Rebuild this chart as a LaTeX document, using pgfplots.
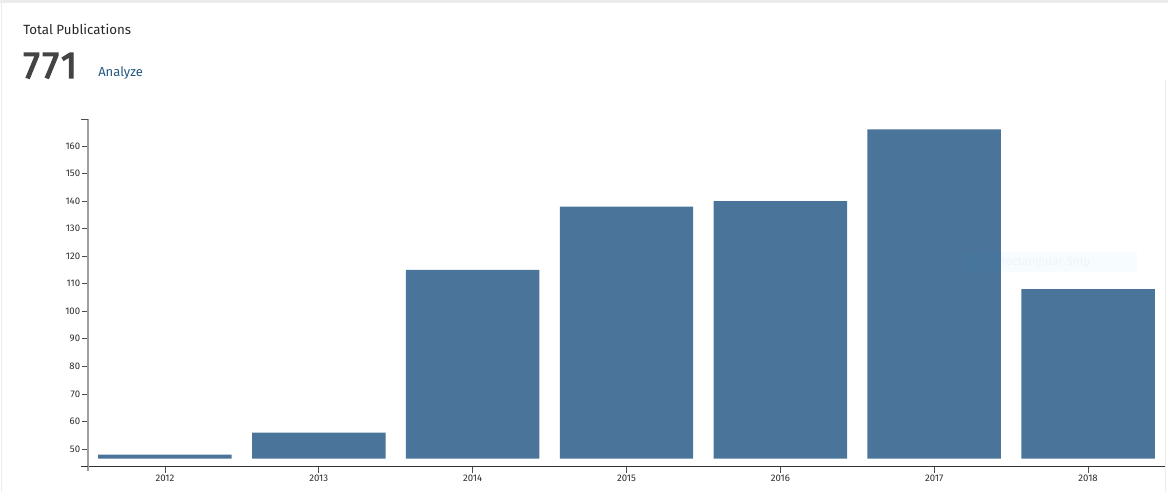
\documentclass[border=0pt]{standalone}
\usepackage{fontspec}
\setmainfont{Fira Sans}
\newfontfamily\numfont{Fira Sans}[FakeBold=3.5, LetterSpace=7]
\usepackage{pgfplots}
\pgfplotsset{compat=1.18}
\definecolor{barblue}{RGB}{74,116,153}
\definecolor{axisgray}{RGB}{158,158,158}
\definecolor{ticktext}{RGB}{45,45,45}
\definecolor{linkblue}{RGB}{36,88,128}
\definecolor{bignum}{RGB}{68,68,68}
\definecolor{cardedge}{RGB}{236,236,236}
\begin{document}
\begin{tikzpicture}
\path[use as bounding box] (0,0) rectangle (876pt,369pt);
\begin{scope}[x=0.75pt,y=-0.75pt,yshift=369pt]
\fill[cardedge] (0,0) rectangle (1168,3.5);
\draw[cardedge, line width=0.75pt] (1.5,3.5) -- (1.5,492);
\draw[cardedge, line width=0.75pt] (1165.5,80) -- (1165.5,492);

\node[anchor=base west, inner sep=0, font=\fontsize{10}{11}\selectfont, text=black!85] at (23,35) {Total Publications};
\node[anchor=base west, inner sep=0, font=\fontsize{28}{30}\selectfont\numfont, text=bignum] at (23,78) {771};
\node[anchor=base west, inner sep=0, font=\fontsize{9.75}{11}\selectfont, text=linkblue] at (98,77) {Analyze};
\end{scope}

\begin{axis}[
  name=ax,
  at={(66pt,24.975pt)}, anchor=south west,
  scale only axis,
  width=807.75pt, height=254.8pt,
  xmin=-0.5, xmax=6.5, ymin=46.5, ymax=169.8,
  axis lines=left,
  axis line style={-},
  x axis line style={black!80, line width=0.75pt},
  y axis line style={draw=none},
  axis x line shift=6pt,
  xtick={0,1,2,3,4,5,6},
  xticklabels={2012,2013,2014,2015,2016,2017,2018},
  ytick={50,60,70,80,90,100,110,120,130,140,150,160},
  tick align=outside,
  major tick length=4.5pt,
  tick style={black!70, line width=0.6pt},
  ticklabel style={font=\fontsize{7.2}{8}\selectfont, text=ticktext},
  yticklabel style={inner sep=1.2pt},
  xticklabel style={inner sep=1.5pt},
  /pgf/number format/assume math mode=true,
  ybar, bar width=100.1pt,
]
\addplot[fill=barblue, draw=none] coordinates {(0,48) (1,56) (2,115) (3,138) (4,140) (5,166) (6,108)};
\end{axis}

\begin{scope}[x=0.75pt,y=-0.75pt,yshift=369pt]
\draw[axisgray, line width=1.5pt] (88,471.5) -- (88,119.3);
\draw[black!70, line width=0.6pt] (81,119.3) -- (88,119.3);
\draw[black!80, line width=0.75pt] (81,466.7) -- (88,466.7);
% faint overlay seen in the reference
\fill[blue!30!cyan, opacity=0.03] (965,252) rectangle (1137,272);
\fill[barblue, opacity=0.1] (972.5,259.5) rectangle (977.5,264.5);
\node[anchor=west, inner sep=0, font=\fontsize{9}{10}\selectfont, text=barblue, opacity=0.06] at (998,262) {Rectangular Snip};
\end{scope}
\end{tikzpicture}
\end{document}
